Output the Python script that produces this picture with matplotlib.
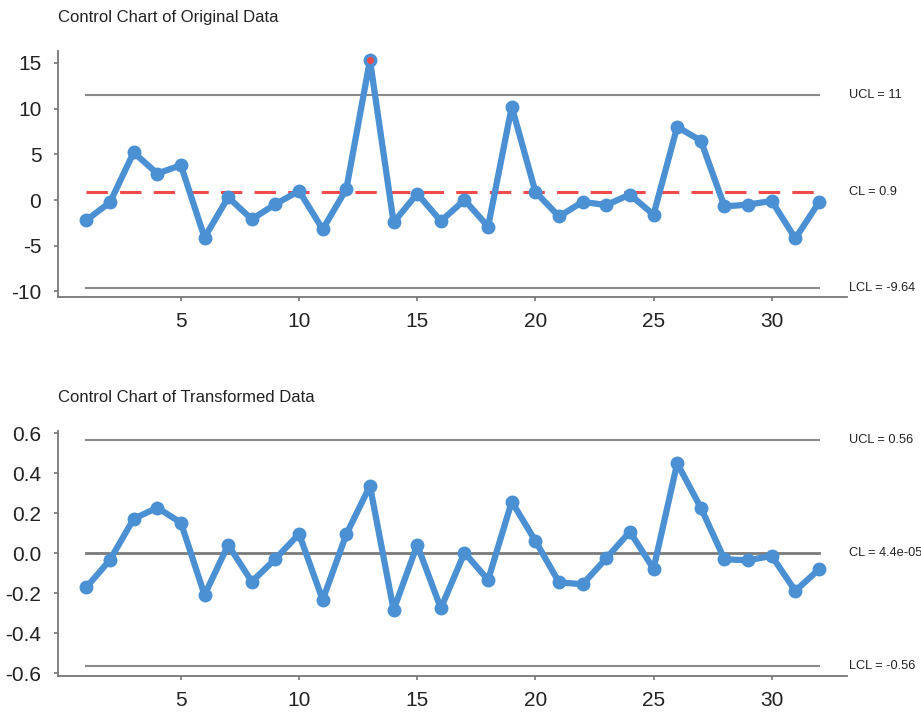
import matplotlib
matplotlib.use('Agg')
import matplotlib.pyplot as plt
from matplotlib.ticker import FormatStrFormatter

plt.rcParams['font.family'] = ['Liberation Sans', 'DejaVu Sans']
plt.rcParams['axes.unicode_minus'] = False

# 数据
obs = list(range(1, 33))
original = [-2.2, -0.25, 5.2, 2.9, 3.8, -4.1, 0.3, -2.1, -0.45, 1.0,
            -3.2, 1.2, 15.3, -2.45, 0.7, -2.3, 0.0, -2.9, 10.2, 0.9,
            -1.8, -0.2, -0.55, 0.6, -1.6, 8.0, 6.5, -0.7, -0.5, -0.1,
            -4.2, -0.25]
transformed = [-0.17, -0.033, 0.172, 0.228, 0.153, -0.208, 0.042, -0.142, -0.028, 0.097,
               -0.233, 0.095, 0.337, -0.283, 0.042, -0.275, 0.003, -0.133, 0.258, 0.062,
               -0.145, -0.155, -0.025, 0.108, -0.078, 0.45, 0.228, -0.03, -0.035, -0.013,
               -0.188, -0.08]

orig_limits = {"UCL": 11.44, "CL": 0.9, "LCL": -9.64}
orig_labels = {"UCL": "UCL = 11", "CL": "CL = 0.9", "LCL": "LCL = -9.64"}
trans_limits = {"UCL": 0.565, "CL": 0.0, "LCL": -0.565}
trans_labels = {"UCL": "UCL = 0.56", "CL": "CL = 4.4e-05", "LCL": "LCL = -0.56"}

BLUE = '#4a90d2'
RED = '#ef4a4c'
GRAY = '#8a8a8a'


def draw_chart(ax, values, limits, labels, title, ylim, yticks, fmt, red_cl):
    x0, x1 = obs[0], obs[-1]
    # 控制限
    ax.plot([x0, x1], [limits["UCL"]] * 2, color=GRAY, lw=1.5, zorder=1)
    ax.plot([x0, x1], [limits["LCL"]] * 2, color=GRAY, lw=1.5, zorder=1)
    if red_cl:
        ax.plot([x0, x1], [limits["CL"]] * 2, color=RED, lw=2.2,
                dashes=(7, 4), zorder=1)
    else:
        ax.plot([x0, x1], [limits["CL"]] * 2, color='#7a7a7a', lw=2, zorder=1)

    # 数据线
    ax.plot(obs, values, color=BLUE, lw=4.5, marker='o', ms=9,
            solid_joinstyle='round', zorder=3)

    # 超出控制限的点标红
    out_x = [x for x, v in zip(obs, values) if v > limits["UCL"] or v < limits["LCL"]]
    out_y = [v for v in values if v > limits["UCL"] or v < limits["LCL"]]
    ax.plot(out_x, out_y, 'o', color=RED, ms=4, zorder=4)

    ax.set_xlim(-0.2, 33.2)
    ax.set_ylim(*ylim)
    ax.set_xticks([5, 10, 15, 20, 25, 30])
    ax.set_yticks(yticks)
    ax.yaxis.set_major_formatter(FormatStrFormatter(fmt))

    for side in ('top', 'right'):
        ax.spines[side].set_visible(False)
    for side in ('left', 'bottom'):
        ax.spines[side].set_color('#777777')
        ax.spines[side].set_linewidth(1.3)
    ax.tick_params(colors='#777777', labelcolor='#222222', labelsize=15,
                   length=3, width=1.2, direction='out')
    ax.tick_params(axis='x', pad=8)
    ax.tick_params(axis='y', pad=9)

    for key in ("UCL", "CL", "LCL"):
        ax.text(33.25, limits[key], labels[key], fontsize=9.2, color='#222222',
                ha='left', va='center', clip_on=False)

    ax.text(0, 1.135, title, transform=ax.transAxes, fontsize=12,
            color='#222222', ha='left', va='center')


fig = plt.figure(figsize=(9.21, 7.13), dpi=100)
fig.patch.set_facecolor('white')

ax_top = fig.add_axes([0.063, 0.5835, 0.857, 0.345])
ax_bot = fig.add_axes([0.063, 0.052, 0.857, 0.344])

draw_chart(ax_top, original, orig_limits, orig_labels,
           'Control Chart of Original Data', (-10.6, 16.3),
           [-10, -5, 0, 5, 10, 15], '%d', red_cl=True)
draw_chart(ax_bot, transformed, trans_limits, trans_labels,
           'Control Chart of Transformed Data', (-0.613, 0.613),
           [-0.6, -0.4, -0.2, 0.0, 0.2, 0.4, 0.6], '%.1f', red_cl=False)

fig.savefig('out.png', dpi=100, facecolor='white')
plt.close(fig)
